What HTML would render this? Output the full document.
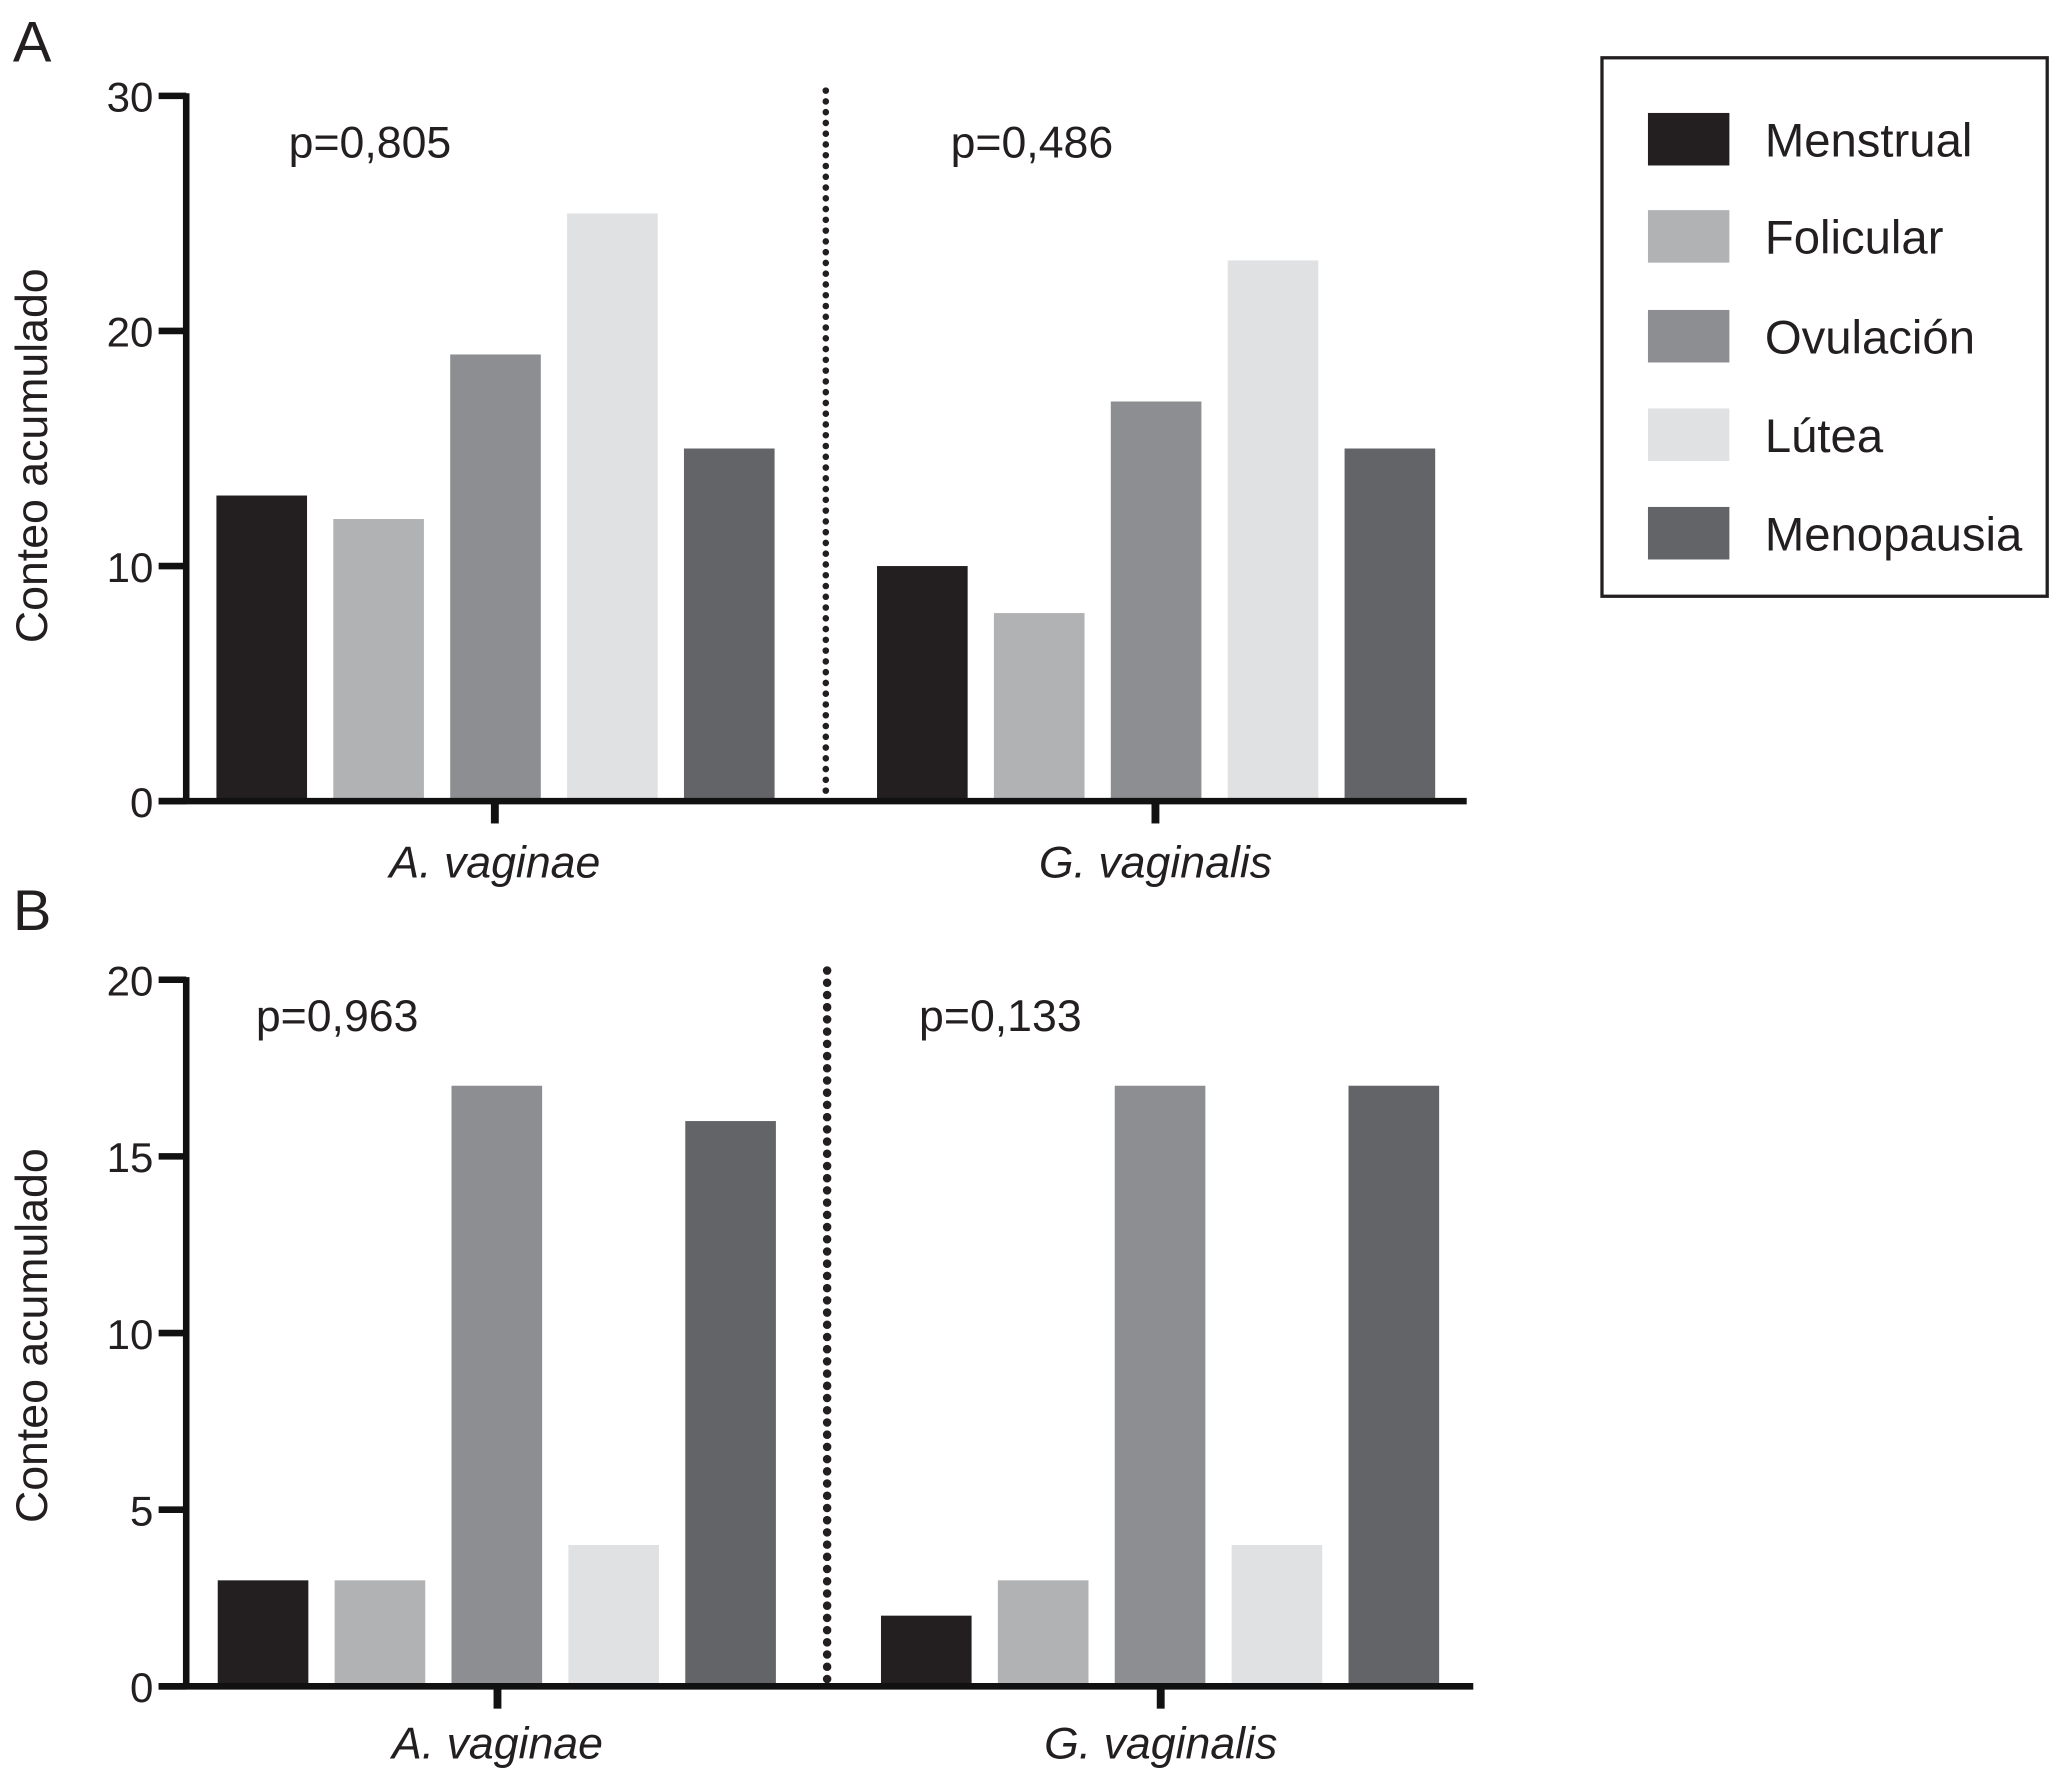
<!DOCTYPE html>
<html><head><meta charset="utf-8"><style>
html,body{margin:0;padding:0;background:#fff;}
svg{display:block;font-family:"Liberation Sans",Arial,sans-serif;}
</style></head><body>
<svg id="chart" width="2064" height="1773" viewBox="0 0 1568 1350">
<g id="root"></g>
</svg>
<script>
const seriesNames = ["Menstrual","Folicular","Ovulación","Lútea","Menopausia"];
const seriesColors = ["#231f20","#b1b2b4","#8d8e91","#e0e1e3","#636467"];
const categories = ["A. vaginae","G. vaginalis"];
const panelA_av = [13,12,19,25,15];
const panelA_gv = [10,8,17,23,15];
const panelB_av = [3,3,17,4,16];
const panelB_gv = [2,3,17,4,17];
const panelA_ticks = [0,10,20,30];
const panelB_ticks = [0,5,10,15,20];
const panelA_p = ["p=0,805","p=0,486"];
const panelB_p = ["p=0,963","p=0,133"];

const NS="http://www.w3.org/2000/svg";
const root=document.getElementById('root');
function mk(tag,attrs,parent,text){const e=document.createElementNS(NS,tag);for(const k in attrs)e.setAttribute(k,attrs[k]);if(text!==undefined)e.textContent=text;(parent||root).appendChild(e);return e;}

function panel(cfg){
  const g=mk('g',{});
  
  
  const y=v=>cfg.y0-(v/cfg.max)*(cfg.y0-cfg.yTop);
  [cfg.av,cfg.gv].forEach((vals,gi)=>{
    vals.forEach((v,i)=>{
      const x=cfg.gx[gi]+i*cfg.step;
      const r=mk('rect',{x:x,y:y(v),width:cfg.bw,height:cfg.y0-y(v),fill:seriesColors[i]},g);
      
      
    });
  });
  const ya=mk('line',{x1:140,y1:cfg.yTop-2,x2:140,y2:cfg.y0+2,stroke:'#111',"stroke-width":5},g);
  
  
  cfg.ticks.forEach(t=>{
    mk('line',{x1:119,y1:y(t),x2:140,y2:y(t),stroke:'#111',"stroke-width":5},g);
    const tl=mk('text',{x:115,y:y(t)+12,"font-size":32,"text-anchor":"end",fill:'#231f20'},g,t);
    
    
  });
  const xa=mk('line',{x1:119,y1:cfg.y0,x2:cfg.xEnd,y2:cfg.y0,stroke:'#111',"stroke-width":5},g);
  
  
  cfg.xt.forEach((xt,i)=>{
    mk('line',{x1:xt,y1:cfg.y0,x2:xt,y2:cfg.y0+17,stroke:'#111',"stroke-width":6},g);
    const cl=mk('text',{x:xt,y:cfg.catY,"font-size":34,"font-style":"italic","text-anchor":"middle",fill:'#231f20'},g,categories[i]);
    
    
  });
  const d=mk('line',{x1:cfg.dx,y1:cfg.dTop,x2:cfg.dx,y2:cfg.y0-4,stroke:'#231f20',"stroke-width":cfg.dw,"stroke-dasharray":"0 "+cfg.dgap,"stroke-linecap":"round"},g);
  
  
  cfg.p.forEach((p,i)=>{
    const t=mk('text',{x:cfg.px[i],y:cfg.py,"font-size":34,fill:'#231f20'},g,p);
    
    
  });
  const yt=mk('text',{x:0,y:0,"font-size":34,"text-anchor":"middle",fill:'#231f20',transform:`translate(34,${cfg.titleY}) rotate(-90)`},g,"Conteo acumulado");
  
  
  const pl=mk('text',{x:8,y:cfg.labelY,"font-size":44,fill:'#231f20'},g,cfg.label);
  
  
}

panel({name:'panel-a',label:'A',labelY:47,y0:610,yTop:73,max:30,ticks:panelA_ticks,av:panelA_av,gv:panelA_gv,
  gx:[163,666],step:89,bw:69,xEnd:1115,xt:[375,878],catY:668,dx:627,dTop:69,dw:5,dgap:8.2,
  p:panelA_p,px:[218,722],py:120,titleY:347});
panel({name:'panel-b',label:'B',labelY:708,y0:1284,yTop:746,max:20,ticks:panelB_ticks,av:panelB_av,gv:panelB_gv,
  gx:[164,669],step:89,bw:69,xEnd:1120,xt:[377,882],catY:1339,dx:628,dTop:739,dw:6.5,dgap:9.3,
  p:panelB_p,px:[193,698],py:785,titleY:1017});

const lg=mk('g',{});


mk('rect',{x:1218,y:44,width:339,height:410,fill:'none',stroke:'#231f20',"stroke-width":2.5},lg);
const ly=[86,160,236,311,386];
seriesNames.forEach((n,i)=>{
  const e=mk('g',{},lg);
  
  
  mk('rect',{x:1253,y:ly[i],width:62,height:40,fill:seriesColors[i]},e);
  mk('text',{x:1342,y:ly[i]+33,"font-size":36,fill:'#231f20'},e,n);
});
</script>
</body></html>
